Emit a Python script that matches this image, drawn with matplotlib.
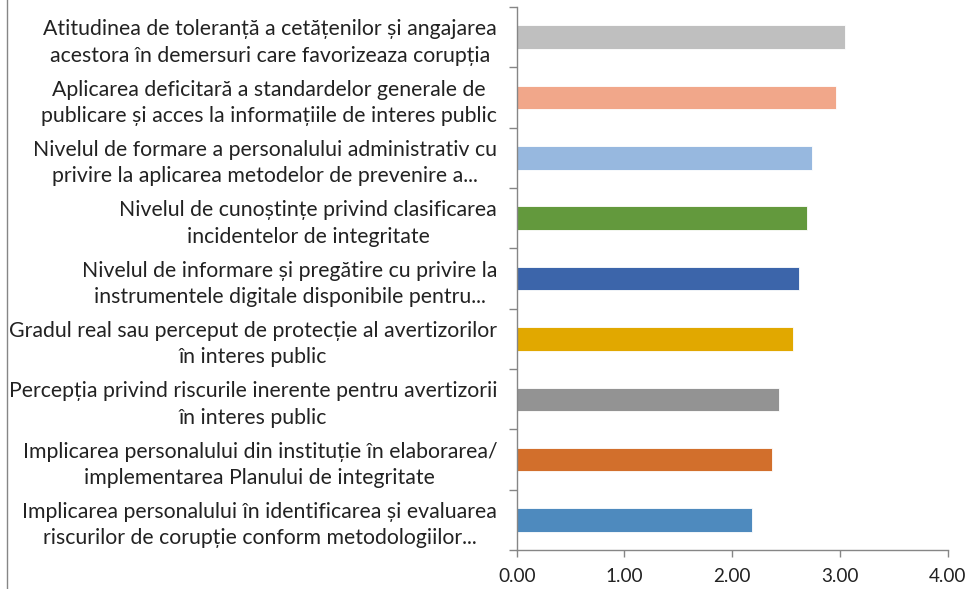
import matplotlib
matplotlib.use("Agg")
import matplotlib.pyplot as plt
from matplotlib.lines import Line2D

categories = [
    "Atitudinea de toleranță a cetățenilor și angajarea\nacestora în demersuri care favorizeaza corupția",
    "Aplicarea deficitară a standardelor generale de\npublicare și acces la informațiile de interes public",
    "Nivelul de formare a personalului administrativ cu\nprivire la aplicarea metodelor de prevenire a...",
    "Nivelul de cunoștințe privind clasificarea\nincidentelor de integritate",
    "Nivelul de informare și pregătire cu privire la\ninstrumentele digitale disponibile pentru...",
    "Gradul real sau perceput de protecție al avertizorilor\nîn interes public",
    "Percepția privind riscurile inerente pentru avertizorii\nîn interes public",
    "Implicarea personalului din instituție în elaborarea/\nimplementarea Planului de integritate",
    "Implicarea personalului în identificarea și evaluarea\nriscurilor de corupție conform metodologiilor...",
]
values = [3.05, 2.96, 2.74, 2.69, 2.62, 2.56, 2.43, 2.37, 2.18]
colors = ["#BFBFBF", "#F1A78A", "#97B8DF", "#63993D", "#3C65AA",
          "#E1A800", "#939393", "#D26F2C", "#4E8ABE"]
xticks = [0, 1, 2, 3, 4]
xticklabels = ["0.00", "1.00", "2.00", "3.00", "4.00"]

plt.rcParams['font.family'] = ['Lato', 'DejaVu Sans']

fig = plt.figure(figsize=(9.73, 5.89), dpi=100)
ax = fig.add_axes([0.531, 0.066, 0.443, 0.922])

n = len(categories)
ypos = list(range(n - 1, -1, -1))
ax.barh(ypos, values, height=0.39, color=colors, edgecolor="white", linewidth=0.6)

ax.set_xlim(0, 4)
ax.set_ylim(-0.5, n - 0.5)
ax.set_xticks(xticks)
ax.set_xticklabels(xticklabels, fontsize=13.6, color="#222222")
ax.set_yticks(ypos)
ax.set_yticklabels(categories, fontsize=15.3, color="#222222", multialignment="center",
                   linespacing=1.4)
ax.set_yticks([i - 0.5 for i in range(n + 1)], minor=True)
ax.tick_params(axis="y", which="major", length=0, pad=14)
ax.tick_params(axis="y", which="minor", length=6, color="#868686", width=1)
ax.tick_params(axis="x", which="major", length=5, color="#868686", width=1, pad=8, direction="out")

for s in ["top", "right"]:
    ax.spines[s].set_visible(False)
for s in ["left", "bottom"]:
    ax.spines[s].set_color("#868686")
    ax.spines[s].set_linewidth(1)

fig.add_artist(Line2D([0.0075, 0.0075], [0, 1], transform=fig.transFigure, color="#868686", linewidth=1))

fig.savefig("out.png", dpi=100)
